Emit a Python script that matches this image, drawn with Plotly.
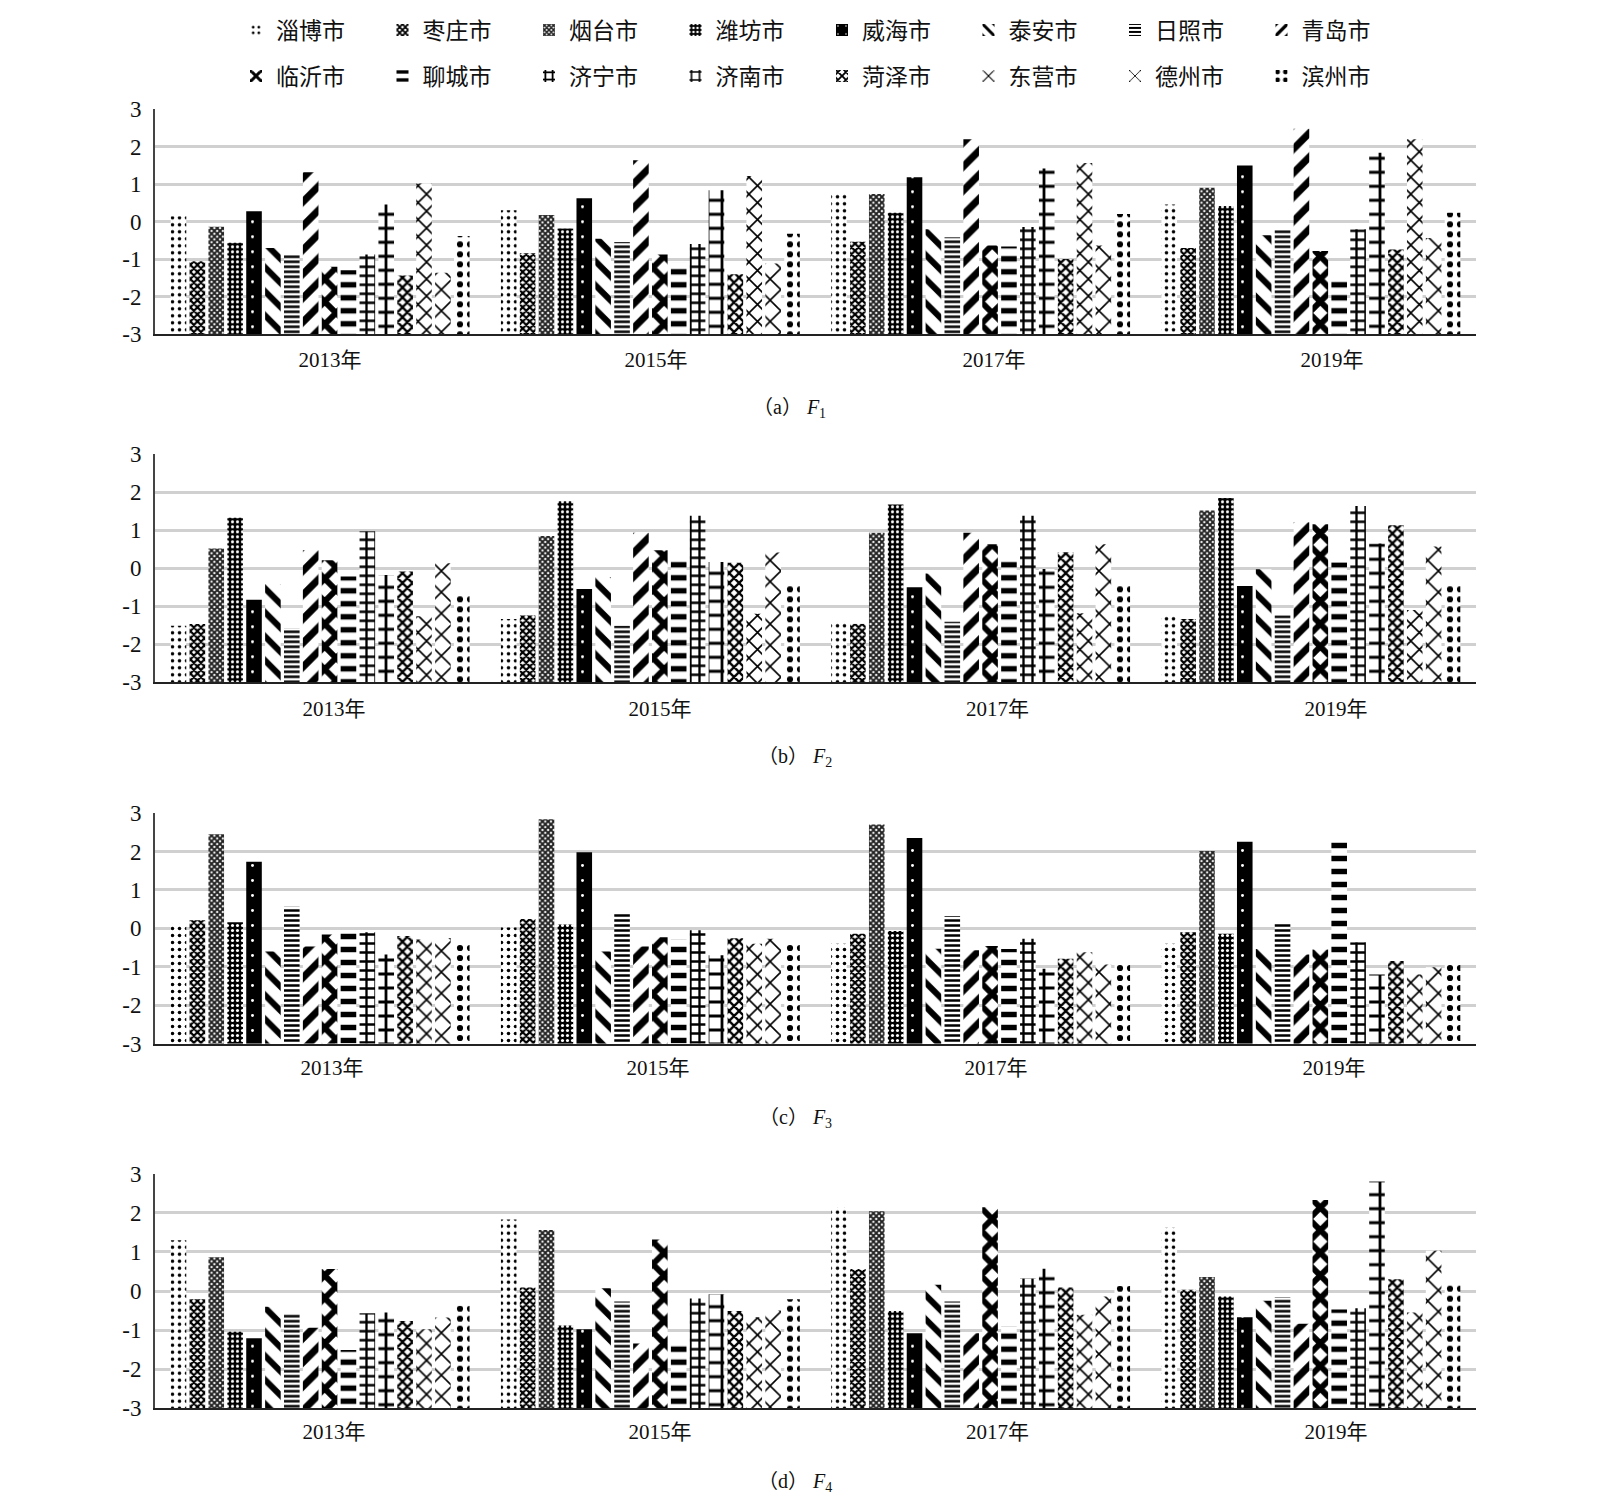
import plotly.graph_objects as go

years = ["2013年", "2015年", "2017年", "2019年"]
cities = ["淄博市", "枣庄市", "烟台市", "潍坊市", "威海市", "泰安市", "日照市", "青岛市",
          "临沂市", "聊城市", "济宁市", "济南市", "菏泽市", "东营市", "德州市", "滨州市"]

f1_2013 = [0.15, -1.05, -0.13, -0.56, 0.28, -0.70, -0.87, 1.32, -1.20, -1.29, -0.87, 0.46, -1.43, 1.02, -1.36, -0.38]
f1_2015 = [0.31, -0.84, 0.18, -0.18, 0.63, -0.45, -0.54, 1.64, -0.87, -1.09, -0.59, 0.84, -1.40, 1.22, -1.11, -0.32]
f1_2017 = [0.77, -0.53, 0.74, 0.24, 1.19, -0.20, -0.41, 2.20, -0.63, -0.66, -0.14, 1.42, -0.99, 1.57, -0.63, 0.21]
f1_2019 = [0.46, -0.70, 0.91, 0.42, 1.50, -0.36, -0.20, 2.48, -0.78, -1.50, -0.20, 1.84, -0.74, 2.20, -0.43, 0.24]

f2_2013 = [-1.52, -1.47, 0.52, 1.33, -0.83, -0.42, -1.59, 0.47, 0.21, -0.22, 0.97, -0.18, -0.09, -1.27, 0.13, -0.67]
f2_2015 = [-1.34, -1.25, 0.85, 1.76, -0.55, -0.23, -1.52, 0.93, 0.47, 0.27, 1.38, 0.16, 0.14, -1.20, 0.41, -0.39]
f2_2017 = [-1.41, -1.47, 0.93, 1.68, -0.50, -0.14, -1.41, 0.93, 0.63, 0.27, 1.38, -0.02, 0.42, -1.19, 0.63, -0.47]
f2_2019 = [-1.27, -1.34, 1.52, 1.85, -0.47, -0.03, -1.24, 1.21, 1.16, 0.15, 1.64, 0.65, 1.13, -1.10, 0.57, -0.42]

f3_2013 = [0.12, 0.21, 2.45, 0.16, 1.73, -0.60, 0.56, -0.47, -0.16, -0.12, -0.10, -0.68, -0.20, -0.29, -0.25, -0.36]
f3_2015 = [0.02, 0.24, 2.84, 0.10, 1.98, -0.60, 0.42, -0.47, -0.23, -0.29, -0.05, -0.70, -0.26, -0.40, -0.27, -0.38]
f3_2017 = [-0.40, -0.14, 2.70, -0.07, 2.35, -0.53, 0.32, -0.57, -0.46, -0.54, -0.27, -1.05, -0.79, -0.62, -0.94, -0.86]
f3_2019 = [-0.40, -0.10, 2.01, -0.14, 2.25, -0.54, 0.14, -0.68, -0.55, 2.25, -0.36, -1.20, -0.85, -1.20, -1.01, -0.86]

f4_2013 = [1.30, -0.21, 0.86, -1.04, -1.21, -0.40, -0.59, -0.94, 0.56, -1.51, -0.57, -0.55, -0.77, -0.98, -0.68, -0.38]
f4_2015 = [1.83, 0.09, 1.56, -0.88, -0.98, 0.07, -0.27, -1.34, 1.32, -1.34, -0.19, -0.08, -0.51, -0.67, -0.50, -0.21]
f4_2017 = [2.14, 0.56, 2.04, -0.51, -1.08, 0.16, -0.27, -1.08, 2.14, -0.90, 0.32, 0.57, 0.09, -0.61, -0.14, 0.13]
f4_2019 = [1.62, 0.03, 0.36, -0.14, -0.67, -0.25, -0.16, -0.84, 2.33, -0.47, -0.44, 2.80, 0.30, -0.55, 1.03, 0.16]

panels = [
    [f1_2013, f1_2015, f1_2017, f1_2019],
    [f2_2013, f2_2015, f2_2017, f2_2019],
    [f3_2013, f3_2015, f3_2017, f3_2019],
    [f4_2013, f4_2015, f4_2017, f4_2019],
]
captions = ["（a）&nbsp;<i>F</i><sub>1</sub>", "（b）&nbsp;<i>F</i><sub>2</sub>",
            "（c）&nbsp;<i>F</i><sub>3</sub>", "（d）&nbsp;<i>F</i><sub>4</sub>"]
y_ticks = [-3, -2, -1, 0, 1, 2, 3]

W, H = 1600, 1508
TEXT_FONT = "Liberation Serif, Noto Sans CJK SC"
INK = "#111111"

# shape, tile size, solidity, foreground, background
PATTERNS = [
    (".", 7, 0.2, "#000000", "#ffffff"),
    ("x", 5, 0.68, "#000000", "#ffffff"),
    ("x", 4, 0.72, "#222222", "#ffffff"),
    (".", 5, 0.3, "#ffffff", "#000000"),
    (".", 15, 0.03, "#ffffff", "#000000"),
    ("\\", 17, 0.36, "#000000", "#ffffff"),
    ("-", 5, 0.5, "#000000", "#ffffff"),
    ("/", 17, 0.42, "#000000", "#ffffff"),
    ("x", 16, 0.6, "#000000", "#ffffff"),
    ("-", 13, 0.42, "#000000", "#ffffff"),
    ("+", 9, 0.45, "#000000", "#ffffff"),
    ("+", 14, 0.36, "#000000", "#ffffff"),
    ("x", 7, 0.55, "#000000", "#ffffff"),
    ("x", 12, 0.25, "#000000", "#ffffff"),
    ("x", 15, 0.2, "#000000", "#ffffff"),
    (".", 10, 0.3, "#000000", "#ffffff"),
]

PLOT_L, PLOT_R = 155, 1476
PANEL_Y = [(109.3, 334.3), (454.3, 682), (813, 1043.7), (1173.7, 1408.3)]
LABEL_X = [[330, 656, 994, 1332], [334, 660, 997.5, 1336], [332, 658, 996, 1334], [334, 660, 997.5, 1336]]
LABEL_STANDOFF = [5, 7, 4, 3]
CAPTION_POS = [(789, 408), (795, 757), (795, 1118), (795, 1482)]
cat_w = (PLOT_R - PLOT_L) / len(years)

fig = go.Figure()
layout = dict(
    width=W, height=H, margin=dict(l=0, r=0, t=0, b=0, autoexpand=False),
    paper_bgcolor="#ffffff", plot_bgcolor="#ffffff",
    barmode="group", bargap=0.085, bargroupgap=0.175,
    font=dict(family=TEXT_FONT, color=INK, size=21),
    annotations=[],
)

for p, panel in enumerate(panels):
    suffix = "" if p == 0 else str(p + 1)
    for c, city in enumerate(cities):
        shape, size, solidity, fg, bg = PATTERNS[c]
        fig.add_trace(go.Bar(
            x=list(range(len(years))),
            y=[panel[yi][c] + 3 for yi in range(len(years))],
            base=-3,
            name=city,
            xaxis="x" + suffix, yaxis="y" + suffix,
            offsetgroup=str(c),
            showlegend=(p == 0),
            legend="legend" if c < 8 else "legend2",
            marker=dict(color=bg, line=dict(width=0),
                        pattern=dict(shape=shape, size=size, solidity=solidity,
                                     fgcolor=fg, bgcolor=bg, fillmode="replace")),
        ))
    top, bottom = PANEL_Y[p]
    layout["xaxis" + suffix] = dict(
        domain=[PLOT_L / W, PLOT_R / W], range=[-0.5, 3.5], anchor="y" + suffix,
        tickmode="array",
        tickvals=[(px - PLOT_L) / cat_w - 0.5 for px in LABEL_X[p]],
        ticktext=years, ticks="", ticklabelstandoff=LABEL_STANDOFF[p],
        showgrid=False, zeroline=False, showline=True, linecolor="#222222", linewidth=2,
        tickfont=dict(family=TEXT_FONT, size=21, color=INK),
    )
    layout["yaxis" + suffix] = dict(
        domain=[1 - bottom / H, 1 - top / H], range=[-3, 3], anchor="x" + suffix,
        tickmode="array", tickvals=y_ticks, ticktext=[str(v) for v in y_ticks],
        ticks="", ticklabelstandoff=7,
        showgrid=True, gridcolor="#d0d0d0", gridwidth=2.5, zeroline=False,
        showline=True, linecolor="#444444", linewidth=2,
        tickfont=dict(family=TEXT_FONT, size=23, color=INK),
    )
    cx, cy = CAPTION_POS[p]
    layout["annotations"].append(dict(
        x=cx / W, y=1 - cy / H, xref="paper", yref="paper", text=captions[p],
        showarrow=False, xanchor="center", yanchor="middle",
        font=dict(family=TEXT_FONT, size=20, color=INK),
    ))

legend_common = dict(
    orientation="h", xanchor="left", yanchor="middle", x=236 / W,
    entrywidth=101.5, entrywidthmode="pixels", itemclick=False, itemdoubleclick=False,
    bgcolor="rgba(0,0,0,0)", font=dict(family=TEXT_FONT, size=23, color=INK),
)
layout["legend"] = dict(legend_common, y=1 - 30 / H)
layout["legend2"] = dict(legend_common, y=1 - 76 / H)

fig.update_layout(**layout)
fig.write_html("out.html", config={"displayModeBar": False},
               post_script="document.body.style.margin='0';")
